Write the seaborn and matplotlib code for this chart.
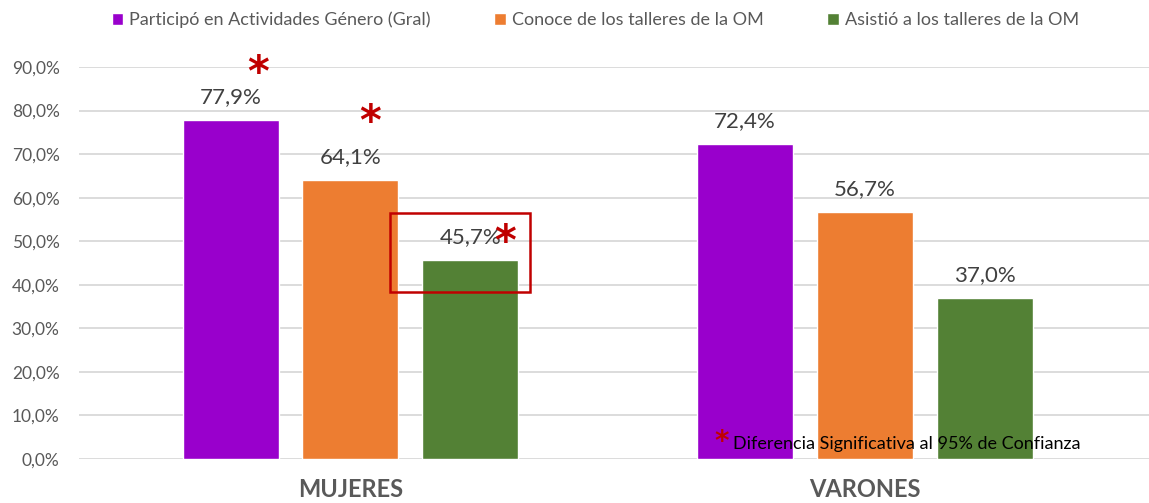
import pandas as pd
import numpy as np
import matplotlib.pyplot as plt
import seaborn as sns
from matplotlib.patches import Rectangle, Patch

# data
grupos = ['MUJERES', 'VARONES']
series = ['Participó en Actividades Género (Gral)',
          'Conoce de los talleres de la OM',
          'Asistió a los talleres de la OM']
participo = [0.779, 0.724]
conoce = [0.641, 0.567]
asistio = [0.457, 0.370]
colores = ['#9900CC', '#ED7D31', '#538135']

df = pd.DataFrame({
    'grupo': grupos * 3,
    'serie': [series[0]] * 2 + [series[1]] * 2 + [series[2]] * 2,
    'valor': participo + conoce + asistio,
})

sns.set_theme(style='white')
plt.rcParams['font.family'] = ['Lato', 'DejaVu Sans']

gris = '#595959'
fig = plt.figure(figsize=(11.49, 5.03), dpi=100)
ax = fig.add_axes([79 / 1149, 1 - 459 / 503, 1 - 79 / 1149, (459 - 67) / 503])

sns.barplot(data=df, x='grupo', y='valor', hue='serie', hue_order=series,
            palette=colores, width=0.7, gap=0.2, saturation=1, ax=ax, legend=False)

ax.set_xlim(-0.528, 1.553)
ax.set_ylim(0, 0.9)
ax.set_yticks(np.arange(0, 0.91, 0.1))
ax.set_yticklabels([f'{v*100:.1f}%'.replace('.', ',') for v in np.arange(0, 0.91, 0.1)],
                   fontsize=12.5, color=gris)
ax.grid(axis='y', color='#D9D9D9', linewidth=1.3)
ax.set_axisbelow(True)
for s in ax.spines.values():
    s.set_visible(False)
ax.tick_params(axis='both', length=0)
ax.tick_params(axis='y', pad=14)
ax.tick_params(axis='x', pad=14)
ax.set_xticks([0, 1])
ax.set_xticklabels(grupos, fontsize=17, fontweight='bold', color=gris)
ax.set_xlabel('')
ax.set_ylabel('')

for cont in ax.containers:
    ax.bar_label(cont, labels=[f'{b.get_height()*100:.1f}%'.replace('.', ',') for b in cont],
                 padding=9, fontsize=16, color='#404040')

# asteriscos de significancia
rojo = '#C00000'
for xa, ya in [(-0.18, 0.885), (0.038, 0.772), (0.30, 0.497)]:
    ax.text(xa, ya, '*', color=rojo, fontsize=30, fontweight='bold', ha='center', va='center',
            family='DejaVu Sans')

ax.add_patch(Rectangle((0.077, 0.383), 0.272, 0.181, fill=False, edgecolor=rojo,
                       linewidth=1.8, clip_on=False, zorder=5))

fig.text(0.628, 0.122, '*', color=rojo, fontsize=20, fontweight='bold', ha='center', va='center',
         family='DejaVu Sans')
fig.text(0.638, 0.117, 'Diferencia Significativa al 95% de Confianza', fontsize=13,
         color='black', ha='left', va='center')

handles = [Patch(facecolor=c) for c in colores]
fig.legend(handles, series, loc='center', bbox_to_anchor=(0.518, 0.96), ncol=3,
           frameon=False, fontsize=13, handlelength=0.65, handleheight=0.65,
           handletextpad=0.3, columnspacing=3.55, labelcolor=gris)

fig.savefig('out.png', dpi=100)
